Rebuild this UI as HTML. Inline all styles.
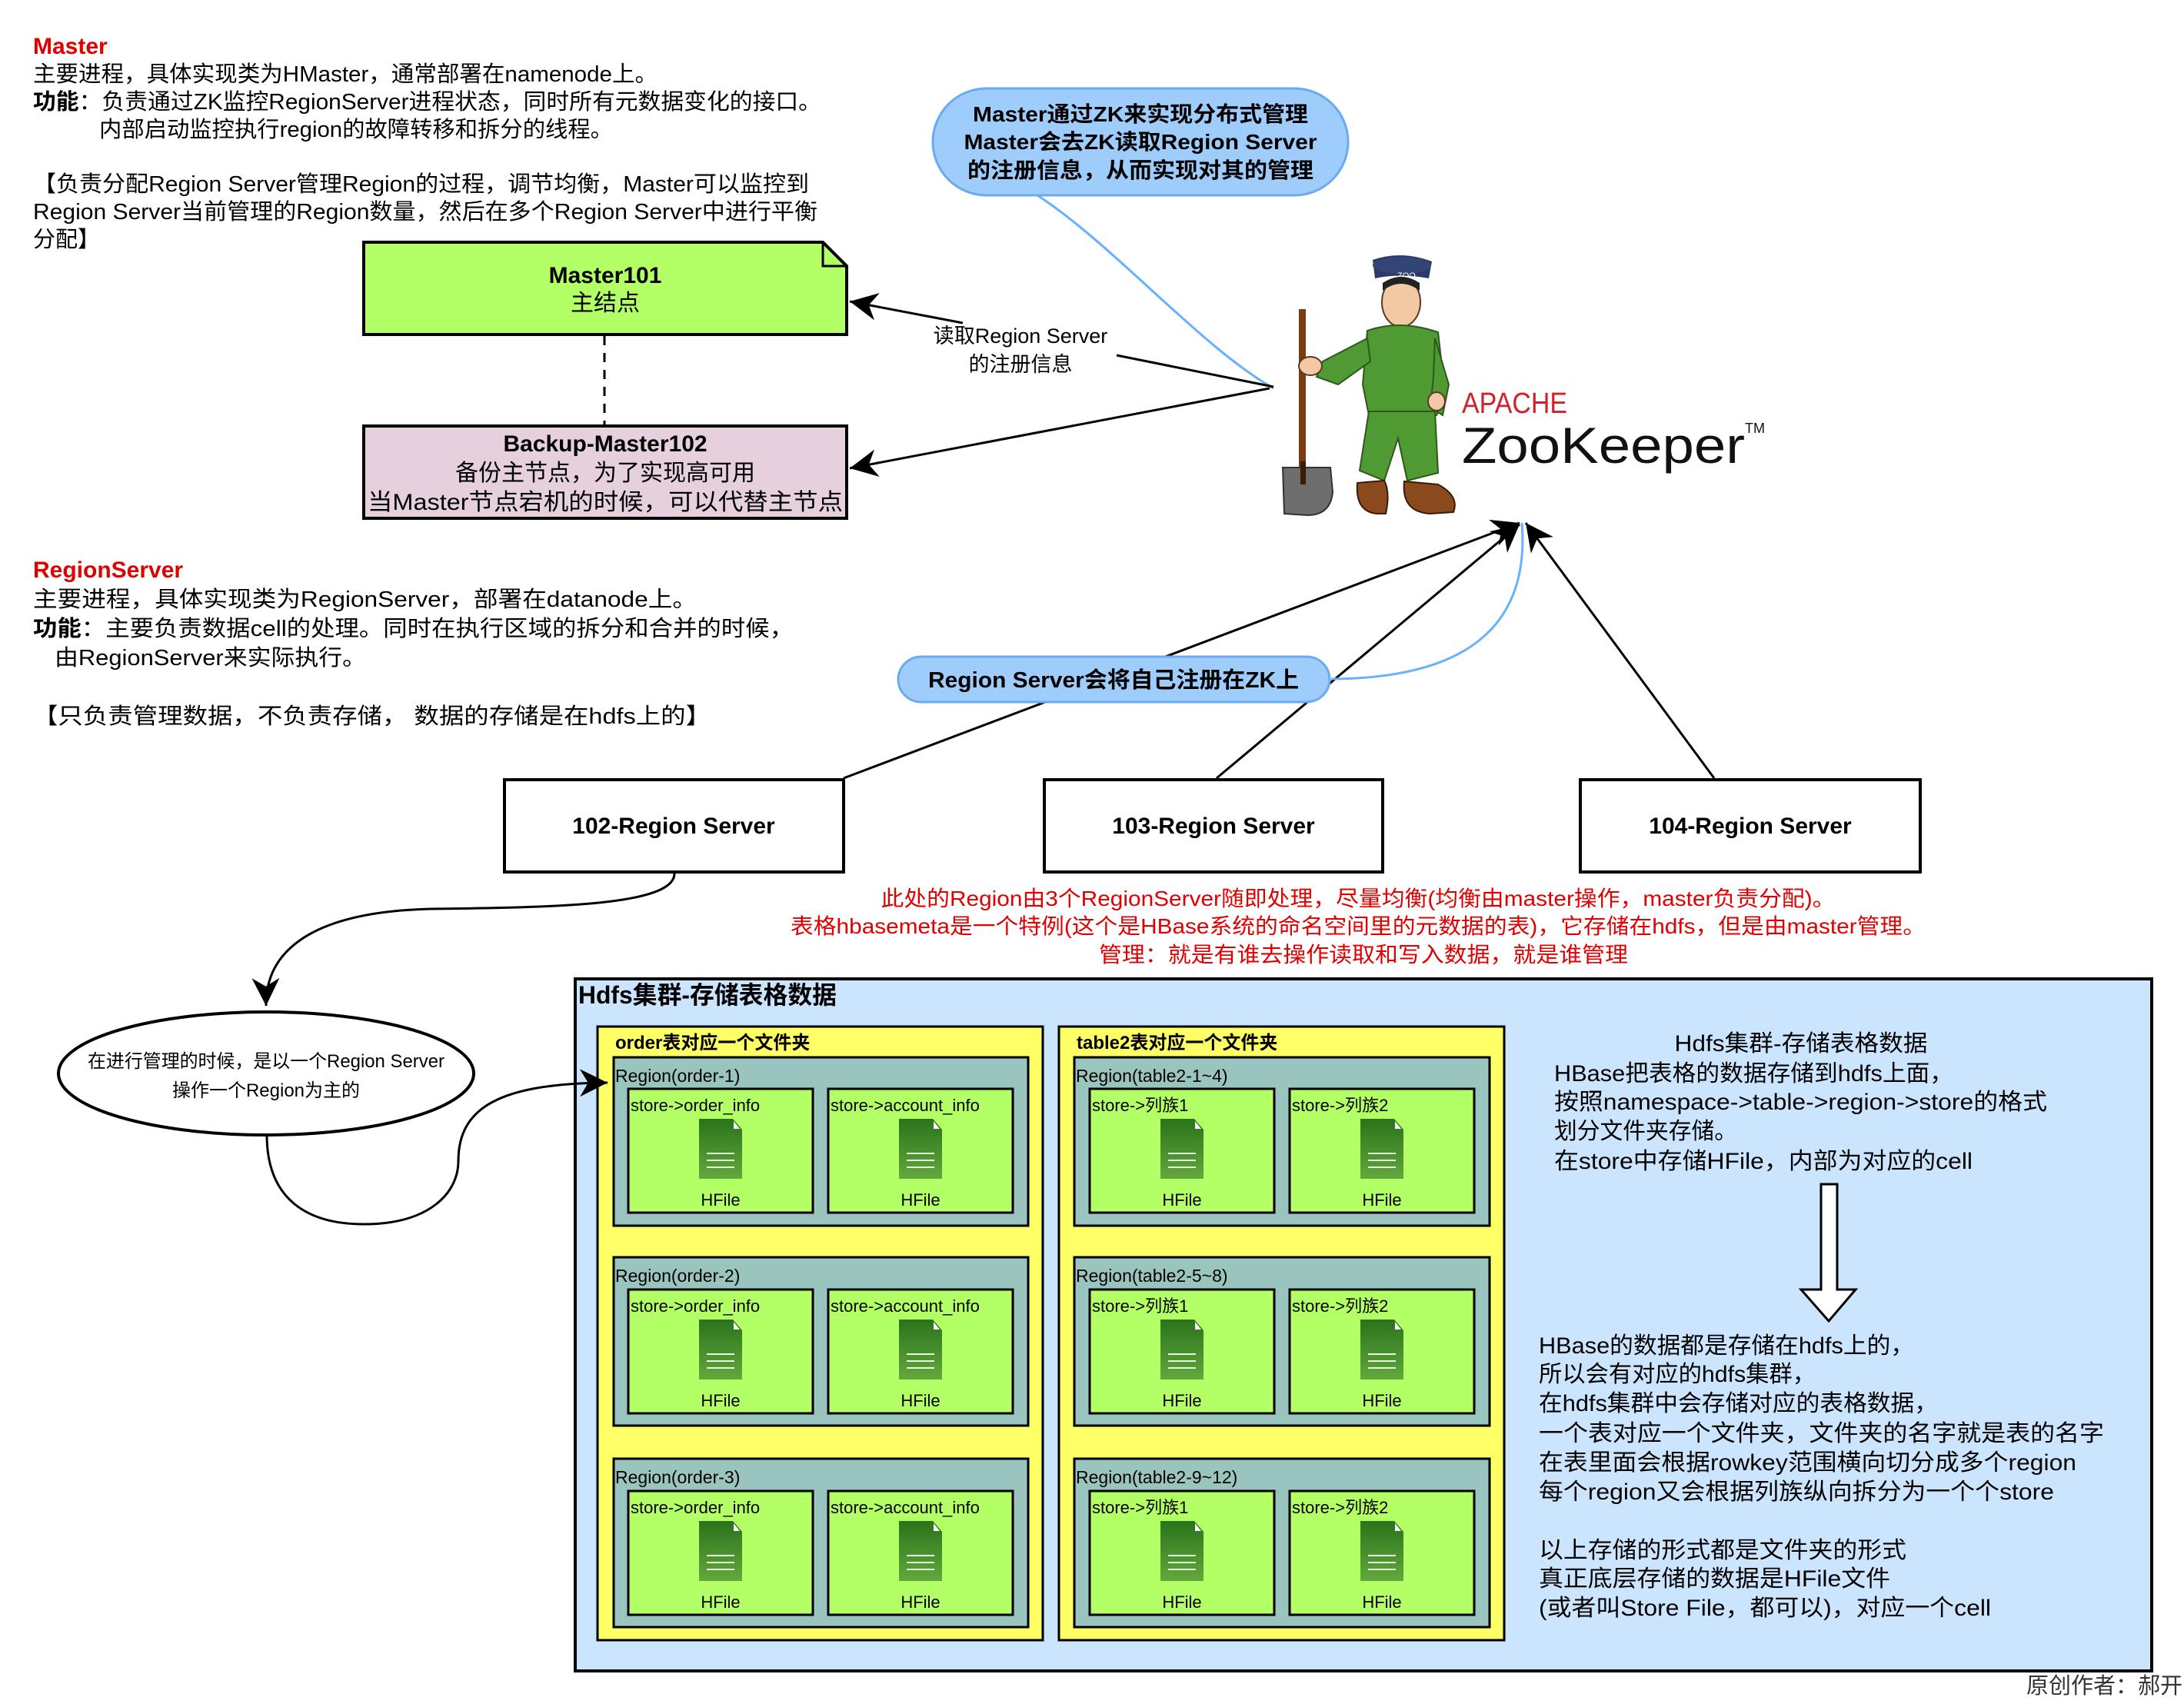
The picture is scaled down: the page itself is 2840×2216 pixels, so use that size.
<!DOCTYPE html>
<html><head><meta charset="utf-8"><style>
html,body{margin:0;padding:0;background:#fff;}
svg{display:block;}
text{font-family:"Liberation Sans","Noto Sans CJK SC",sans-serif;}
</style></head><body>
<svg width="2840" height="2216" viewBox="0 0 2840 2216" xmlns="http://www.w3.org/2000/svg">
<defs>
<marker id="ah" markerWidth="12" markerHeight="12" refX="10" refY="5" orient="auto" markerUnits="strokeWidth" viewBox="0 0 10 10">
<path d="M0,0 L10,5 L0,10 L3,5 Z" fill="#000"/>
</marker>
<linearGradient id="ic" x1="0" y1="0" x2="0" y2="1"><stop offset="0" stop-color="#2a731b"/><stop offset="1" stop-color="#62a83d"/></linearGradient>
</defs>

<!-- Master text -->
<g font-size="29" fill="#000">
<text x="43" y="70" fill="#e00000" font-weight="bold" font-size="30">Master</text>
<text x="43" y="106" textLength="812" lengthAdjust="spacingAndGlyphs">主要进程，具体实现类为HMaster，通常部署在namenode上。</text>
<text x="43" y="142" textLength="1025" lengthAdjust="spacingAndGlyphs"><tspan font-weight="bold">功能</tspan>：负责通过ZK监控RegionServer进程状态，同时所有元数据变化的接口。</text>
<text x="129" y="178" textLength="668" lengthAdjust="spacingAndGlyphs">内部启动监控执行region的故障转移和拆分的线程。</text>
<text x="43" y="249" textLength="1009" lengthAdjust="spacingAndGlyphs">【负责分配Region Server管理Region的过程，调节均衡，Master可以监控到</text>
<text x="43" y="285" textLength="1020" lengthAdjust="spacingAndGlyphs">Region Server当前管理的Region数量，然后在多个Region Server中进行平衡</text>
<text x="43" y="321">分配】</text>
</g>

<!-- Master101 -->
<path d="M473,315 H1070 L1101,346 V435 H473 Z" fill="#b3ff66" stroke="#000" stroke-width="4"/>
<path d="M1070,315 V346 H1101" fill="none" stroke="#000" stroke-width="3"/>
<text x="787" y="368" font-size="30" font-weight="bold" text-anchor="middle">Master101</text>
<text x="787" y="404" font-size="30" text-anchor="middle">主结点</text>
<line x1="786" y1="437" x2="786" y2="554" stroke="#000" stroke-width="3" stroke-dasharray="12,10"/>

<!-- Backup -->
<rect x="473" y="554" width="628" height="120" fill="#e6d0de" stroke="#000" stroke-width="4"/>
<text x="787" y="587" font-size="30" font-weight="bold" text-anchor="middle">Backup-Master102</text>
<text x="787" y="625" font-size="30" text-anchor="middle">备份主节点，为了实现高可用</text>
<text x="787" y="663" font-size="30" text-anchor="middle" textLength="618" lengthAdjust="spacingAndGlyphs">当Master节点宕机的时候，可以代替主节点</text>

<!-- RegionServer text -->
<g font-size="29" fill="#000">
<text x="43" y="751" fill="#e00000" font-weight="bold" font-size="30">RegionServer</text>
<text x="43" y="789" textLength="863" lengthAdjust="spacingAndGlyphs">主要进程，具体实现类为RegionServer，部署在datanode上。</text>
<text x="43" y="827" textLength="989" lengthAdjust="spacingAndGlyphs"><tspan font-weight="bold">功能</tspan>：主要负责数据cell的处理。同时在执行区域的拆分和合并的时候，</text>
<text x="71" y="865" textLength="405" lengthAdjust="spacingAndGlyphs">由RegionServer来实际执行。</text>
<text x="43" y="941" textLength="881" lengthAdjust="spacingAndGlyphs">【只负责管理数据，不负责存储，   数据的存储是在hdfs上的】</text>
</g>

<!-- top bubble -->
<path d="M1349,254 C1450,320 1560,450 1656,505" fill="none" stroke="#66b2ff" stroke-width="3"/>
<rect x="1213" y="115" width="540" height="139" rx="70" ry="70" fill="#9fcdfb" stroke="#6aaaf2" stroke-width="3"/>
<g font-size="28" font-weight="bold" text-anchor="middle">
<text x="1483" y="158" textLength="436" lengthAdjust="spacingAndGlyphs">Master通过ZK来实现分布式管理</text>
<text x="1483" y="194" textLength="459" lengthAdjust="spacingAndGlyphs">Master会去ZK读取Region Server</text>
<text x="1483" y="231" textLength="450" lengthAdjust="spacingAndGlyphs">的注册信息，从而实现对其的管理</text>
</g>

<!-- arrows from zk to masters -->
<line x1="1656" y1="503" x2="1452" y2="462" stroke="#000" stroke-width="3"/>
<line x1="1252" y1="420" x2="1105" y2="392" stroke="#000" stroke-width="3" marker-end="url(#ah)"/>
<line x1="1651" y1="505" x2="1105" y2="609" stroke="#000" stroke-width="3" marker-end="url(#ah)"/>
<text x="1327" y="446" font-size="27" text-anchor="middle">读取Region Server</text>
<text x="1327" y="483" font-size="27" text-anchor="middle">的注册信息</text>

<!-- Zookeeper figure -->
<g>
<rect x="1689" y="402" width="9" height="215" fill="#7a3b12"/>
<path d="M1668,608 H1730 L1733,640 Q1730,670 1700,670 L1670,668 Z" fill="#6e6e6e" stroke="#333" stroke-width="2"/>
<rect x="1691" y="600" width="7" height="30" fill="#3a1b08"/>
<path d="M1785,338 Q1822,325 1862,340 L1858,362 Q1820,355 1788,362 Z" fill="#2b3a66"/>
<ellipse cx="1823" cy="345" rx="38" ry="11" fill="#334477"/>
<text x="1817" y="362" font-size="11" fill="#fff">ZOO</text>
<ellipse cx="1822" cy="393" rx="25" ry="32" fill="#f2c9a4" stroke="#5a3a20" stroke-width="2"/>
<path d="M1798,378 Q1822,360 1846,378 L1846,368 Q1822,352 1798,368 Z" fill="#222"/>
<path d="M1778,430 Q1820,415 1870,432 L1880,520 L1868,540 L1780,540 L1772,500 Z" fill="#4f9a32" stroke="#2d5a1a" stroke-width="2"/>
<path d="M1778,440 L1720,470 L1712,490 L1740,500 L1782,470 Z" fill="#4f9a32" stroke="#2d5a1a" stroke-width="2"/>
<path d="M1866,440 L1884,500 L1876,540 L1860,530 L1864,490 Z" fill="#4f9a32" stroke="#2d5a1a" stroke-width="2"/>
<ellipse cx="1704" cy="476" rx="15" ry="12" fill="#f2c9a4" stroke="#5a3a20" stroke-width="2"/>
<ellipse cx="1868" cy="522" rx="11" ry="12" fill="#f2c9a4" stroke="#5a3a20" stroke-width="2"/>
<path d="M1780,535 L1768,612 L1800,625 L1818,570 L1830,625 L1870,615 L1866,535 Z" fill="#4f9a32" stroke="#2d5a1a" stroke-width="2"/>
<path d="M1765,628 Q1762,665 1790,668 L1802,668 Q1808,640 1800,625 Z" fill="#8a4a1e" stroke="#3a1b08" stroke-width="2"/>
<path d="M1826,626 Q1822,666 1860,668 L1890,666 Q1898,645 1870,630 Z" fill="#8a4a1e" stroke="#3a1b08" stroke-width="2"/>
</g>
<text x="1901" y="537" font-size="38" fill="#d22128" textLength="137" lengthAdjust="spacingAndGlyphs">APACHE</text>
<text x="1901" y="602" font-size="66" fill="#111" textLength="368" lengthAdjust="spacingAndGlyphs">ZooKeeper</text>
<text x="2269" y="563" font-size="18" fill="#111">TM</text>

<!-- region server boxes -->
<rect x="656" y="1014" width="441" height="120" fill="#fff" stroke="#000" stroke-width="4"/>
<text x="876" y="1084" font-size="30" font-weight="bold" text-anchor="middle">102-Region Server</text>
<rect x="1358" y="1014" width="440" height="120" fill="#fff" stroke="#000" stroke-width="4"/>
<text x="1578" y="1084" font-size="30" font-weight="bold" text-anchor="middle">103-Region Server</text>
<rect x="2055" y="1014" width="442" height="120" fill="#fff" stroke="#000" stroke-width="4"/>
<text x="2276" y="1084" font-size="30" font-weight="bold" text-anchor="middle">104-Region Server</text>

<line x1="1097" y1="1012" x2="1976" y2="680" stroke="#000" stroke-width="3" marker-end="url(#ah)"/>
<line x1="1582" y1="1012" x2="1976" y2="682" stroke="#000" stroke-width="3" marker-end="url(#ah)"/>
<line x1="2229" y1="1012" x2="1984" y2="680" stroke="#000" stroke-width="3" marker-end="url(#ah)"/>
<path d="M1731,883 C1900,882 1990,820 1979,680" fill="none" stroke="#66b2ff" stroke-width="3"/>

<rect x="1168" y="854" width="561" height="59" rx="30" ry="30" fill="#9fcdfb" stroke="#6aaaf2" stroke-width="3"/>
<text x="1448" y="894" font-size="29" font-weight="bold" text-anchor="middle" textLength="482" lengthAdjust="spacingAndGlyphs">Region Server会将自己注册在ZK上</text>

<!-- red notes -->
<g font-size="28" fill="#e00000" text-anchor="middle">
<text x="1766" y="1178" textLength="1241" lengthAdjust="spacingAndGlyphs">此处的Region由3个RegionServer随即处理，尽量均衡(均衡由master操作，master负责分配)。</text>
<text x="1766" y="1214" textLength="1476" lengthAdjust="spacingAndGlyphs">表格hbasemeta是一个特例(这个是HBase系统的命名空间里的元数据的表)，它存储在hdfs，但是由master管理。</text>
<text x="1773" y="1251" textLength="688" lengthAdjust="spacingAndGlyphs">管理：就是有谁去操作读取和写入数据，就是谁管理</text>
</g>

<!-- ellipse and curves -->
<path d="M877,1136 C877,1178 720,1180 560,1182 C400,1186 345,1240 346,1308" fill="none" stroke="#000" stroke-width="3" marker-end="url(#ah)"/>
<ellipse cx="346" cy="1396" rx="270" ry="80" fill="#fff" stroke="#000" stroke-width="4"/>
<text x="346" y="1388" font-size="24" text-anchor="middle" textLength="464" lengthAdjust="spacingAndGlyphs">在进行管理的时候，是以一个Region Server</text>
<text x="346" y="1426" font-size="24" text-anchor="middle">操作一个Region为主的</text>

<!-- HDFS container -->
<rect x="748" y="1273" width="2050" height="900" fill="#cce5ff" stroke="#000" stroke-width="4"/>
<text x="752" y="1305" font-size="32" font-weight="bold" textLength="336" lengthAdjust="spacingAndGlyphs">Hdfs集群-存储表格数据</text>

<rect x="777" y="1335" width="579" height="798" fill="#ffff66" stroke="#000" stroke-width="3"/>
<text x="800" y="1364" font-size="24" font-weight="bold">order表对应一个文件夹</text>
<rect x="1377" y="1335" width="579" height="798" fill="#ffff66" stroke="#000" stroke-width="3"/>
<text x="1400" y="1364" font-size="24" font-weight="bold">table2表对应一个文件夹</text>

<g font-size="23" fill="#000">
<rect x="798" y="1375" width="539" height="219" fill="#9ac5bf" stroke="#000" stroke-width="3"/>
<text x="800" y="1407">Region(order-1)</text>
<rect x="798" y="1635" width="539" height="219" fill="#9ac5bf" stroke="#000" stroke-width="3"/>
<text x="800" y="1667">Region(order-2)</text>
<rect x="798" y="1897" width="539" height="219" fill="#9ac5bf" stroke="#000" stroke-width="3"/>
<text x="800" y="1929">Region(order-3)</text>
<rect x="1397" y="1375" width="540" height="219" fill="#9ac5bf" stroke="#000" stroke-width="3"/>
<text x="1399" y="1407">Region(table2-1~4)</text>
<rect x="1397" y="1635" width="540" height="219" fill="#9ac5bf" stroke="#000" stroke-width="3"/>
<text x="1399" y="1667">Region(table2-5~8)</text>
<rect x="1397" y="1897" width="540" height="219" fill="#9ac5bf" stroke="#000" stroke-width="3"/>
<text x="1399" y="1929">Region(table2-9~12)</text>
</g>

<!-- loop arrow into Region(order-1), drawn above container -->
<path d="M347,1476 C347,1560 400,1592 473,1592 C560,1592 596,1550 596,1510 C596,1440 650,1409 790,1408" fill="none" stroke="#000" stroke-width="3" marker-end="url(#ah)"/>

<g font-size="22" fill="#000">
<rect x="817" y="1416" width="240" height="161" fill="#b3ff66" stroke="#000" stroke-width="3"/>
<text x="820" y="1445">store-&gt;order_info</text>
<rect x="1077" y="1416" width="240" height="161" fill="#b3ff66" stroke="#000" stroke-width="3"/>
<text x="1080" y="1445">store-&gt;account_info</text>
<rect x="1417" y="1416" width="240" height="161" fill="#b3ff66" stroke="#000" stroke-width="3"/>
<text x="1420" y="1445">store-&gt;列族1</text>
<rect x="1677" y="1416" width="240" height="161" fill="#b3ff66" stroke="#000" stroke-width="3"/>
<text x="1680" y="1445">store-&gt;列族2</text>
<rect x="817" y="1677" width="240" height="161" fill="#b3ff66" stroke="#000" stroke-width="3"/>
<text x="820" y="1706">store-&gt;order_info</text>
<rect x="1077" y="1677" width="240" height="161" fill="#b3ff66" stroke="#000" stroke-width="3"/>
<text x="1080" y="1706">store-&gt;account_info</text>
<rect x="1417" y="1677" width="240" height="161" fill="#b3ff66" stroke="#000" stroke-width="3"/>
<text x="1420" y="1706">store-&gt;列族1</text>
<rect x="1677" y="1677" width="240" height="161" fill="#b3ff66" stroke="#000" stroke-width="3"/>
<text x="1680" y="1706">store-&gt;列族2</text>
<rect x="817" y="1939" width="240" height="161" fill="#b3ff66" stroke="#000" stroke-width="3"/>
<text x="820" y="1968">store-&gt;order_info</text>
<rect x="1077" y="1939" width="240" height="161" fill="#b3ff66" stroke="#000" stroke-width="3"/>
<text x="1080" y="1968">store-&gt;account_info</text>
<rect x="1417" y="1939" width="240" height="161" fill="#b3ff66" stroke="#000" stroke-width="3"/>
<text x="1420" y="1968">store-&gt;列族1</text>
<rect x="1677" y="1939" width="240" height="161" fill="#b3ff66" stroke="#000" stroke-width="3"/>
<text x="1680" y="1968">store-&gt;列族2</text>

<g text-anchor="middle">
<text x="937" y="1568">HFile</text><text x="1197" y="1568">HFile</text><text x="1537" y="1568">HFile</text><text x="1797" y="1568">HFile</text>
<text x="937" y="1829">HFile</text><text x="1197" y="1829">HFile</text><text x="1537" y="1829">HFile</text><text x="1797" y="1829">HFile</text>
<text x="937" y="2091">HFile</text><text x="1197" y="2091">HFile</text><text x="1537" y="2091">HFile</text><text x="1797" y="2091">HFile</text>
</g>
</g>

<g>
<g transform="translate(909,1455)"><path d="M0,0 H44 L56,14 V78 H0 Z" fill="url(#ic)"/><path d="M45,3 L53,13 H45 Z" fill="#fff"/><path d="M10,45 H46 M10,54 H46 M10,63 H46" stroke="#e8f5e0" stroke-width="2"/></g>
<g transform="translate(1169,1455)"><path d="M0,0 H44 L56,14 V78 H0 Z" fill="url(#ic)"/><path d="M45,3 L53,13 H45 Z" fill="#fff"/><path d="M10,45 H46 M10,54 H46 M10,63 H46" stroke="#e8f5e0" stroke-width="2"/></g>
<g transform="translate(1509,1455)"><path d="M0,0 H44 L56,14 V78 H0 Z" fill="url(#ic)"/><path d="M45,3 L53,13 H45 Z" fill="#fff"/><path d="M10,45 H46 M10,54 H46 M10,63 H46" stroke="#e8f5e0" stroke-width="2"/></g>
<g transform="translate(1769,1455)"><path d="M0,0 H44 L56,14 V78 H0 Z" fill="url(#ic)"/><path d="M45,3 L53,13 H45 Z" fill="#fff"/><path d="M10,45 H46 M10,54 H46 M10,63 H46" stroke="#e8f5e0" stroke-width="2"/></g>
<g transform="translate(909,1716)"><path d="M0,0 H44 L56,14 V78 H0 Z" fill="url(#ic)"/><path d="M45,3 L53,13 H45 Z" fill="#fff"/><path d="M10,45 H46 M10,54 H46 M10,63 H46" stroke="#e8f5e0" stroke-width="2"/></g>
<g transform="translate(1169,1716)"><path d="M0,0 H44 L56,14 V78 H0 Z" fill="url(#ic)"/><path d="M45,3 L53,13 H45 Z" fill="#fff"/><path d="M10,45 H46 M10,54 H46 M10,63 H46" stroke="#e8f5e0" stroke-width="2"/></g>
<g transform="translate(1509,1716)"><path d="M0,0 H44 L56,14 V78 H0 Z" fill="url(#ic)"/><path d="M45,3 L53,13 H45 Z" fill="#fff"/><path d="M10,45 H46 M10,54 H46 M10,63 H46" stroke="#e8f5e0" stroke-width="2"/></g>
<g transform="translate(1769,1716)"><path d="M0,0 H44 L56,14 V78 H0 Z" fill="url(#ic)"/><path d="M45,3 L53,13 H45 Z" fill="#fff"/><path d="M10,45 H46 M10,54 H46 M10,63 H46" stroke="#e8f5e0" stroke-width="2"/></g>
<g transform="translate(909,1978)"><path d="M0,0 H44 L56,14 V78 H0 Z" fill="url(#ic)"/><path d="M45,3 L53,13 H45 Z" fill="#fff"/><path d="M10,45 H46 M10,54 H46 M10,63 H46" stroke="#e8f5e0" stroke-width="2"/></g>
<g transform="translate(1169,1978)"><path d="M0,0 H44 L56,14 V78 H0 Z" fill="url(#ic)"/><path d="M45,3 L53,13 H45 Z" fill="#fff"/><path d="M10,45 H46 M10,54 H46 M10,63 H46" stroke="#e8f5e0" stroke-width="2"/></g>
<g transform="translate(1509,1978)"><path d="M0,0 H44 L56,14 V78 H0 Z" fill="url(#ic)"/><path d="M45,3 L53,13 H45 Z" fill="#fff"/><path d="M10,45 H46 M10,54 H46 M10,63 H46" stroke="#e8f5e0" stroke-width="2"/></g>
<g transform="translate(1769,1978)"><path d="M0,0 H44 L56,14 V78 H0 Z" fill="url(#ic)"/><path d="M45,3 L53,13 H45 Z" fill="#fff"/><path d="M10,45 H46 M10,54 H46 M10,63 H46" stroke="#e8f5e0" stroke-width="2"/></g>
</g>

<g font-size="30" fill="#000">
<text x="2342" y="1367" text-anchor="middle" textLength="329" lengthAdjust="spacingAndGlyphs">Hdfs集群-存储表格数据</text>
<text x="2021" y="1406" textLength="519" lengthAdjust="spacingAndGlyphs">HBase把表格的数据存储到hdfs上面，</text>
<text x="2021" y="1443" textLength="641" lengthAdjust="spacingAndGlyphs">按照namespace-&gt;table-&gt;region-&gt;store的格式</text>
<text x="2021" y="1481" textLength="238" lengthAdjust="spacingAndGlyphs">划分文件夹存储。</text>
<text x="2021" y="1520" textLength="544" lengthAdjust="spacingAndGlyphs">在store中存储HFile，内部为对应的cell</text>
<text x="2001" y="1760" textLength="488" lengthAdjust="spacingAndGlyphs">HBase的数据都是存储在hdfs上的，</text>
<text x="2001" y="1797" textLength="360" lengthAdjust="spacingAndGlyphs">所以会有对应的hdfs集群，</text>
<text x="2001" y="1835" textLength="519" lengthAdjust="spacingAndGlyphs">在hdfs集群中会存储对应的表格数据，</text>
<text x="2001" y="1874" textLength="735" lengthAdjust="spacingAndGlyphs">一个表对应一个文件夹，文件夹的名字就是表的名字</text>
<text x="2001" y="1912" textLength="699" lengthAdjust="spacingAndGlyphs">在表里面会根据rowkey范围横向切分成多个region</text>
<text x="2001" y="1950" textLength="670" lengthAdjust="spacingAndGlyphs">每个region又会根据列族纵向拆分为一个个store</text>
<text x="2001" y="2026" textLength="478" lengthAdjust="spacingAndGlyphs">以上存储的形式都是文件夹的形式</text>
<text x="2001" y="2063" textLength="457" lengthAdjust="spacingAndGlyphs">真正底层存储的数据是HFile文件</text>
<text x="2001" y="2101" textLength="588" lengthAdjust="spacingAndGlyphs">(或者叫Store File，都可以)，对应一个cell</text>
</g>

<path d="M2368,1540 H2389 V1677 H2413 L2378,1718 L2342,1677 H2368 Z" fill="#fff" stroke="#000" stroke-width="3"/>

<text x="2838" y="2202" font-size="29" fill="#333" text-anchor="end">原创作者：郝开</text>
</svg>
</body></html>
